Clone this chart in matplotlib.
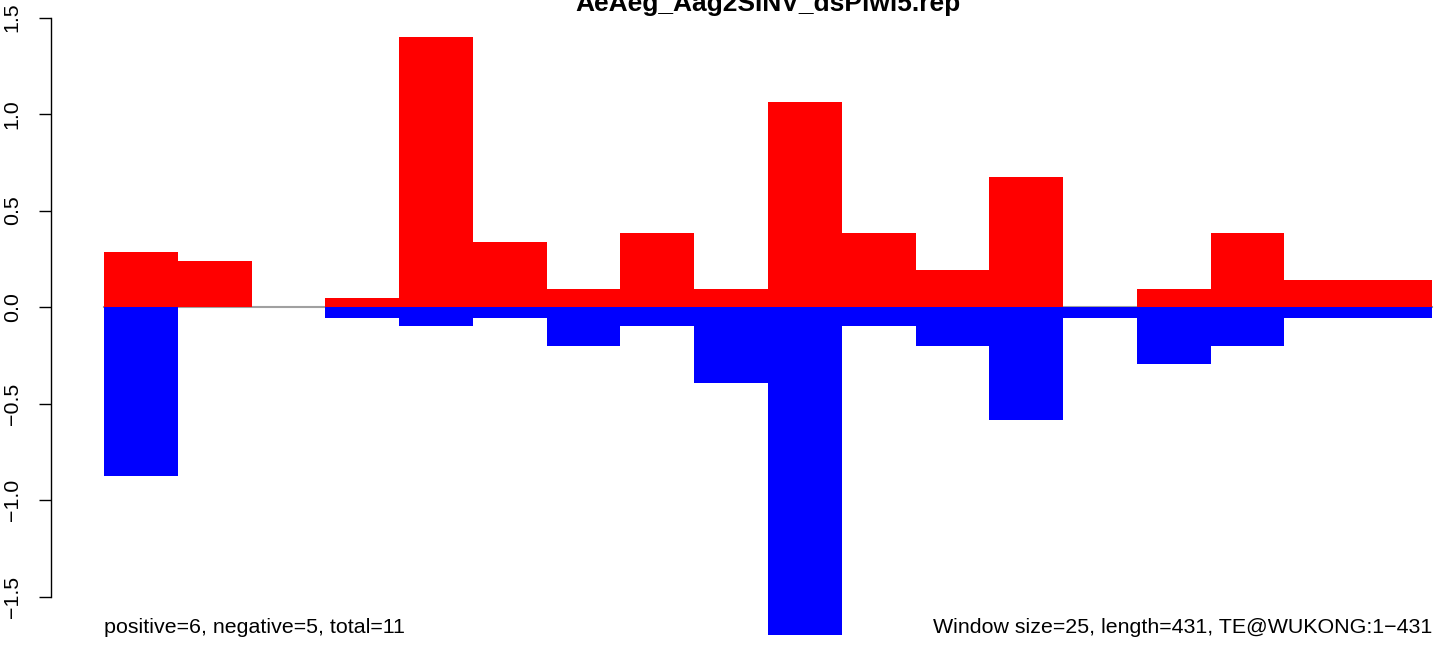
import matplotlib
matplotlib.use("Agg")
import matplotlib.pyplot as plt
import numpy as np

plt.rcParams['font.family'] = ['Liberation Sans', 'DejaVu Sans']

title = "AeAeg_Aag2SINV_dsPiwi5.rep"
windows = list(range(1, 19))
positive = [0.285, 0.238, 0.0, 0.047, 1.399, 0.337, 0.093, 0.383, 0.093,
            1.062, 0.383, 0.192, 0.674, 0.0, 0.093, 0.383, 0.140, 0.140]
negative = [-0.876, 0.0, 0.0, -0.057, -0.098, -0.057, -0.202, -0.098, -0.394,
            -1.699, -0.098, -0.202, -0.585, -0.057, -0.295, -0.202, -0.057, -0.057]
yticks = [-1.5, -1.0, -0.5, 0.0, 0.5, 1.0, 1.5]
left_note = "positive=6, negative=5, total=11"
right_note = "Window size=25, length=431, TE@WUKONG:1\u2212431"

W, H, DPI = 1444, 646, 100
fig = plt.figure(figsize=(W / DPI, H / DPI), dpi=DPI)
ax = fig.add_axes([0, 0, 1, 1])

# pixel mapping
x0_px, x1_px = 104, 1432
n = len(windows)
bw_px = (x1_px - x0_px) / n
zero_px, unit_px = 307, 193
ax.set_xlim(-x0_px / bw_px, n + (W - x1_px) / bw_px)
ax.set_ylim(-(H - zero_px) / unit_px, zero_px / unit_px)

x = np.arange(n)
ax.plot([0, n], [0, 0], color='#a0a0a0', lw=1.5, zorder=1)
ax.bar(x, positive, width=1.0, align='edge', color='#ff0000', linewidth=0, zorder=2)
ax.bar(x, negative, width=1.0, align='edge', color='#0000ff', linewidth=0, zorder=2)

for s in ['top', 'right', 'bottom']:
    ax.spines[s].set_visible(False)
axis_x = (51 - x0_px) / bw_px
ax.spines['left'].set_position(('data', axis_x))
ax.spines['left'].set_bounds(-1.5, 1.5)
ax.spines['left'].set_linewidth(1.0)
ax.set_xticks([])
ax.set_yticks(yticks)
ax.set_yticklabels([f"{t:.1f}".replace('-', '\u2212') for t in yticks],
                   rotation=90, va='center', ha='right', fontsize=15.4)
ax.tick_params(axis='y', direction='out', length=9, width=1.0, pad=12)

fig.text(767.5 / W, 1 - 11 / H, title, ha='center', va='baseline',
         fontsize=19, fontweight='bold')
fig.text(x0_px / W, 1 - 633 / H, left_note, ha='left', va='baseline', fontsize=15.4)
fig.text(x1_px / W, 1 - 633 / H, right_note, ha='right', va='baseline', fontsize=15.4)

fig.savefig("out.png", dpi=DPI)
